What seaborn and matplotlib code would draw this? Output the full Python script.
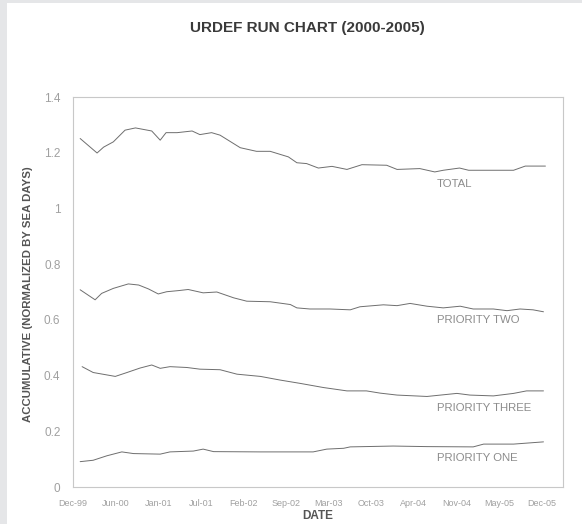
import numpy as np
import pandas as pd
import matplotlib
matplotlib.use("Agg")
import matplotlib.pyplot as plt
from matplotlib.patches import Rectangle
import seaborn as sns

# months after Dec-99
total_months = [1.1, 3.7, 4.7, 6.2, 8.0, 9.6, 12.1, 13.4, 14.3, 16.0, 18.3, 19.5, 21.3, 22.6,
                25.7, 28.2, 30.3, 33.1, 34.4, 35.9, 37.7, 39.8, 42.1, 44.4, 48.2, 49.8, 53.3,
                55.6, 56.9, 59.4, 60.8, 64.6, 67.7, 69.5, 72.6]
total_vals = [1.251, 1.199, 1.22, 1.239, 1.281, 1.289, 1.278, 1.245, 1.272, 1.272, 1.278, 1.265,
              1.272, 1.263, 1.218, 1.205, 1.205, 1.185, 1.164, 1.161, 1.145, 1.151, 1.140, 1.157,
              1.155, 1.140, 1.143, 1.131, 1.137, 1.145, 1.137, 1.137, 1.137, 1.152, 1.152]

p2_months = [1.1, 3.4, 4.4, 6.2, 8.5, 10.1, 11.6, 13.1, 14.4, 16.2, 17.7, 20.0, 22.1, 24.7, 26.7,
             30.3, 33.4, 34.4, 36.4, 39.5, 42.6, 44.1, 47.7, 49.8, 51.8, 54.4, 56.9, 59.5, 61.5,
             64.6, 66.7, 68.7, 70.7, 72.3]
p2_vals = [0.708, 0.672, 0.695, 0.713, 0.729, 0.725, 0.711, 0.693, 0.701, 0.705, 0.709, 0.697,
           0.700, 0.679, 0.667, 0.665, 0.655, 0.643, 0.639, 0.639, 0.636, 0.647, 0.654, 0.651,
           0.659, 0.649, 0.643, 0.649, 0.639, 0.639, 0.633, 0.639, 0.636, 0.629]

p3_months = [1.4, 3.1, 6.5, 8.3, 10.3, 12.1, 13.4, 14.9, 17.5, 19.5, 22.6, 25.2, 28.8, 31.8, 34.9,
             38.5, 42.1, 45.1, 47.2, 49.8, 54.4, 56.9, 59.0, 61.0, 64.6, 67.7, 69.7, 72.3]
p3_vals = [0.432, 0.411, 0.397, 0.411, 0.427, 0.438, 0.426, 0.432, 0.429, 0.423, 0.421, 0.405,
           0.397, 0.384, 0.372, 0.357, 0.345, 0.345, 0.337, 0.330, 0.325, 0.331, 0.336, 0.330,
           0.327, 0.336, 0.345, 0.345]

p1_months = [1.1, 3.1, 5.2, 7.5, 9.3, 13.4, 14.9, 18.5, 20.0, 21.6, 28.8, 36.9, 39.0, 41.6, 42.6,
             49.2, 54.4, 61.5, 63.1, 67.7, 72.3]
p1_vals = [0.091, 0.096, 0.112, 0.126, 0.120, 0.118, 0.126, 0.129, 0.136, 0.127, 0.126, 0.126,
           0.136, 0.139, 0.144, 0.147, 0.145, 0.144, 0.154, 0.154, 0.162]

series_names = ["TOTAL", "PRIORITY TWO", "PRIORITY THREE", "PRIORITY ONE"]
label_y = [1.086, 0.60, 0.285, 0.105]

date_labels = ["Dec-99", "Jun-00", "Jan-01", "Jul-01", "Feb-02", "Sep-02", "Mar-03",
               "Oct-03", "Apr-04", "Nov-04", "May-05", "Dec-05"]


def main():
    sns.set_style("white")
    plt.rcParams["font.family"] = ["Liberation Sans", "DejaVu Sans"]

    fig = plt.figure(figsize=(5.82, 5.24), dpi=100)
    fig.patch.set_facecolor("white")
    # grey page edge on left and top
    fig.patches.append(Rectangle((0, 0), 7 / 582, 1, transform=fig.transFigure,
                                 facecolor="#e5e6e8", edgecolor="none"))
    fig.patches.append(Rectangle((0, 1 - 3 / 524), 1, 3 / 524, transform=fig.transFigure,
                                 facecolor="#e5e6e8", edgecolor="none"))

    ax = fig.add_axes([73 / 582, (524 - 487) / 524, 490 / 582, 390 / 524])

    data = [(total_months, total_vals), (p2_months, p2_vals),
            (p3_months, p3_vals), (p1_months, p1_vals)]
    for (m, v), name, ly in zip(data, series_names, label_y):
        sns.lineplot(x=m, y=v, ax=ax, color="#6e6e6e", linewidth=0.7, sort=False)
        ax.text(55.9, ly, name, fontsize=8.2, color="#8c8c8c", va="center", ha="left")

    ax.set_xlim(0, 75.3)
    ax.set_ylim(0, 1.4)
    ax.set_xticks(np.linspace(0, 72, len(date_labels)))
    ax.set_xticklabels(date_labels, fontsize=6.5, color="#a0a0a0")
    ax.set_yticks([0, 0.2, 0.4, 0.6, 0.8, 1.0, 1.2, 1.4])
    ax.set_yticklabels(["0", "0.2", "0.4", "0.6", "0.8", "1", "1.2", "1.4"],
                       fontsize=8.5, color="#a0a0a0")
    ax.tick_params(axis="y", length=4, width=0.6, color="#b8b8b8", pad=5, direction="out")
    ax.tick_params(axis="x", length=2, width=0.6, color="#b8b8b8", pad=7, direction="out")
    for s in ax.spines.values():
        s.set_color("#c8c8c8")
        s.set_linewidth(0.8)

    ax.set_xlabel("DATE", fontsize=8.5, fontweight="bold", color="#555555")
    ax.xaxis.set_label_coords(0.5, -0.058)
    ax.set_ylabel("ACCUMULATIVE (NORMALIZED BY SEA DAYS)", fontsize=8.2, fontweight="bold",
                  color="#555555")
    ax.yaxis.set_label_coords(-0.082, 0.495)

    fig.text(307 / 582, 1 - 28 / 524, "URDEF RUN CHART (2000-2005)", fontsize=11,
             fontweight="bold", color="#3a3a3a", ha="center", va="center")

    fig.savefig("out.png", dpi=100)


if __name__ == "__main__":
    main()
